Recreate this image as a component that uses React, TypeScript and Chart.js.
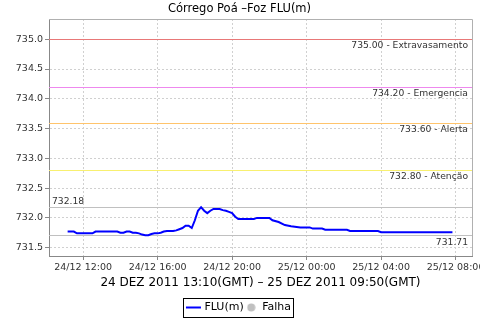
import React, { useEffect, useRef } from "react";
import { Chart, registerables } from "chart.js";

Chart.register(...registerables);

const TITLE = "Córrego Poá –Foz FLU(m)";
const X_TITLE = "24 DEZ 2011 13:10(GMT) – 25 DEZ 2011 09:50(GMT)";
const SERIES_LABEL = "FLU(m)";
const FAIL_LABEL = "Falha";

// time stamps (local) and level readings of FLU(m)
const times = [
  "24/12 11:10", "24/12 11:30", "24/12 11:40", "24/12 12:30", "24/12 12:40",
  "24/12 13:50", "24/12 14:00", "24/12 14:10", "24/12 14:20", "24/12 14:30",
  "24/12 14:40", "24/12 14:50", "24/12 15:00", "24/12 15:10", "24/12 15:20",
  "24/12 15:30", "24/12 15:40", "24/12 15:50", "24/12 16:00", "24/12 16:10",
  "24/12 16:20", "24/12 16:30", "24/12 16:50", "24/12 17:00", "24/12 17:10",
  "24/12 17:20", "24/12 17:30", "24/12 17:40", "24/12 17:50", "24/12 18:00",
  "24/12 18:10", "24/12 18:20", "24/12 18:30", "24/12 18:40", "24/12 18:50",
  "24/12 19:00", "24/12 19:20", "24/12 19:30", "24/12 19:40", "24/12 19:50",
  "24/12 20:00", "24/12 20:10", "24/12 20:20", "24/12 21:10", "24/12 21:20",
  "24/12 22:00", "24/12 22:10", "24/12 22:30", "24/12 22:50", "24/12 23:10",
  "24/12 23:40", "25/12 00:10", "25/12 00:20", "25/12 00:50", "25/12 01:00",
  "25/12 02:10", "25/12 02:20", "25/12 03:50", "25/12 04:00", "25/12 07:50",
];
const levels = [
  731.77, 731.77, 731.74, 731.74, 731.77,
  731.77, 731.75, 731.75, 731.77, 731.77,
  731.75, 731.75, 731.74, 731.72, 731.71,
  731.71, 731.73, 731.74, 731.74, 731.75,
  731.77, 731.78, 731.78, 731.79, 731.81,
  731.83, 731.87, 731.87, 731.83, 731.96,
  732.12, 732.18, 732.12, 732.08, 732.12,
  732.15, 732.15, 732.13, 732.12, 732.10,
  732.08, 732.02, 731.98, 731.98, 732.00,
  732.00, 731.96, 731.93, 731.88, 731.86,
  731.84, 731.84, 731.82, 731.82, 731.80,
  731.80, 731.78, 731.78, 731.76, 731.76,
];

const X_MIN = "24/12 10:10";
const X_MAX = "25/12 08:53";
const Y_MIN = 731.36;
const Y_MAX = 735.34;

const xTickTimes = ["24/12 12:00", "24/12 16:00", "24/12 20:00", "25/12 00:00", "25/12 04:00", "25/12 08:00"];
const yTicks = [731.5, 732.0, 732.5, 733.0, 733.5, 734.0, 734.5, 735.0];

const thresholdValues = [735.0, 734.2, 733.6, 732.8];
const thresholdNames = ["Extravasamento", "Emergencia", "Alerta", "Atenção"];
const thresholdColors = ["#e87878", "#ee88ee", "#ffc46c", "#f8f070"];

const extremeValues = [732.18, 731.71]; // max, min

const FONT = '"DejaVu Sans", sans-serif';

function toHours(s: string): number {
  const [d, t] = s.split(" ");
  const day = Number(d.split("/")[0]);
  const [hh, mm] = t.split(":").map(Number);
  return (day - 24) * 24 + hh + mm / 60;
}

function fmtHours(h: number): string {
  const total = Math.round(h * 60);
  const day = 24 + Math.floor(total / 1440);
  const rem = total % 1440;
  const hh = Math.floor(rem / 60);
  const mm = rem % 60;
  const p = (n: number) => String(n).padStart(2, "0");
  return `${day}/12 ${p(hh)}:${p(mm)}`;
}

const refLinesPlugin = {
  id: "refLines",
  beforeDatasetsDraw(chart: any) {
    const { ctx, chartArea, scales } = chart;
    const { left, right, top, bottom } = chartArea;
    const y = scales.y;
    ctx.save();
    ctx.beginPath();
    ctx.rect(left, top, right - left, bottom - top);
    ctx.clip();
    ctx.setLineDash([]);
    ctx.lineWidth = 1;
    ctx.font = `9.2px ${FONT}`;
    ctx.fillStyle = "#333";
    thresholdValues.forEach((v, i) => {
      const py = Math.round(y.getPixelForValue(v)) + 0.5;
      ctx.strokeStyle = thresholdColors[i];
      ctx.beginPath();
      ctx.moveTo(left, py);
      ctx.lineTo(right, py);
      ctx.stroke();
      ctx.textAlign = "right";
      ctx.textBaseline = "top";
      ctx.fillText(`${v.toFixed(2)} - ${thresholdNames[i]}`, right - 4, py + 2);
    });
    extremeValues.forEach((v, i) => {
      const py = Math.round(y.getPixelForValue(v)) + 0.5;
      ctx.strokeStyle = "#c0c0c0";
      ctx.beginPath();
      ctx.moveTo(left, py);
      ctx.lineTo(right, py);
      ctx.stroke();
      if (i === 0) {
        ctx.textAlign = "left";
        ctx.textBaseline = "alphabetic";
        ctx.fillText(v.toFixed(2), left + 3, py - 4);
      } else {
        ctx.textAlign = "right";
        ctx.textBaseline = "top";
        ctx.fillText(v.toFixed(2), right - 4, py + 3);
      }
    });
    ctx.restore();
  },
  afterDraw(chart: any) {
    const { ctx, chartArea } = chart;
    const { left, right, top } = chartArea;
    ctx.save();
    ctx.setLineDash([]);
    ctx.strokeStyle = "#b0b0b0";
    ctx.lineWidth = 1;
    ctx.beginPath();
    ctx.moveTo(left, Math.round(top) + 0.5);
    ctx.lineTo(Math.round(right) + 0.5, Math.round(top) + 0.5);
    ctx.lineTo(Math.round(right) + 0.5, chartArea.bottom);
    ctx.stroke();
    // legend frame
    const hb = chart.legend?.legendHitBoxes || [];
    if (hb.length) {
      const l = Math.min(...hb.map((h: any) => h.left));
      const r = Math.max(...hb.map((h: any) => h.left + h.width));
      const t = hb[0].top;
      const b = t + hb[0].height;
      const x0 = Math.round(l - 5) + 0.5;
      const x1 = Math.round(r + 2) + 0.5;
      const y0 = Math.round(t - 4.5) + 0.5;
      const y1 = Math.round(b + 4) + 0.5;
      ctx.strokeStyle = "#000";
      ctx.strokeRect(x0, y0, x1 - x0, y1 - y0);
    }
    ctx.restore();
  },
};

export default function App() {
  const ref = useRef<HTMLCanvasElement | null>(null);

  useEffect(() => {
    if (!ref.current) return;
    Chart.defaults.font.family = FONT;

    const dot = document.createElement("canvas");
    dot.width = 9;
    dot.height = 9;
    const dctx = dot.getContext("2d")!;
    dctx.fillStyle = "#c0c0c0";
    dctx.beginPath();
    dctx.arc(4.5, 4.5, 4, 0, Math.PI * 2);
    dctx.fill();

    const points = times.map((t, i) => ({ x: toHours(t), y: levels[i] }));

    const chart = new Chart(ref.current, {
      type: "line",
      data: {
        datasets: [
          {
            label: SERIES_LABEL,
            data: points,
            borderColor: "#0000ff",
            backgroundColor: "#0000ff",
            borderWidth: 2,
            pointRadius: 0,
            pointStyle: "line",
            tension: 0,
          },
          {
            label: FAIL_LABEL,
            data: [],
            borderColor: "#c0c0c0",
            backgroundColor: "#c0c0c0",
            pointRadius: 4,
            showLine: false,
          },
        ],
      },
      options: {
        animation: false,
        responsive: false,
        devicePixelRatio: 1,
        layout: { padding: { left: 7, right: 8, top: 0, bottom: -3 } },
        scales: {
          x: {
            type: "linear",
            min: toHours(X_MIN),
            max: toHours(X_MAX),
            afterBuildTicks: (s: any) => {
              s.ticks = xTickTimes.map((t) => ({ value: toHours(t) }));
            },
            afterFit: (s: any) => {
              s.paddingLeft = 0;
              s.paddingRight = 0;
            },
            ticks: {
              autoSkip: false,
              maxRotation: 0,
              padding: 2,
              color: "#333",
              font: { size: 9.5 },
              callback: (v: any) => fmtHours(Number(v)),
            },
            grid: { color: "#d0d0d0", tickLength: 4, tickColor: "#888", tickBorderDash: [] },
            border: { color: "#888", dash: [2, 2] },
            title: {
              display: true,
              text: X_TITLE,
              color: "#000",
              font: { size: 12 },
              padding: { top: 0.4, bottom: 9.8 },
            },
          },
          y: {
            type: "linear",
            min: Y_MIN,
            max: Y_MAX,
            afterBuildTicks: (s: any) => {
              s.ticks = yTicks.map((v) => ({ value: v }));
            },
            afterFit: (s: any) => {
              s.width = 42;
              s.paddingTop = 0;
              s.paddingBottom = 0;
            },
            ticks: {
              padding: 2,
              color: "#333",
              font: { size: 9.5 },
              callback: (v: any) => Number(v).toFixed(1),
            },
            grid: { color: "#d0d0d0", tickLength: 4, tickColor: "#888", tickBorderDash: [] },
            border: { color: "#888", dash: [2, 2] },
          },
        },
        plugins: {
          title: {
            display: true,
            text: TITLE,
            color: "#000",
            font: { size: 11.5, weight: "normal" },
            padding: { top: 2.1, bottom: 3.1 },
          },
          legend: {
            position: "bottom",
            labels: {
              usePointStyle: true,
              boxHeight: 10.6,
              boxWidth: 11,
              padding: 2,
              color: "#000",
              font: { size: 11 },
              generateLabels: (c: any) =>
                c.data.datasets.map((ds: any, i: number) => ({
                  text: ds.label,
                  datasetIndex: i,
                  hidden: false,
                  fillStyle: ds.backgroundColor,
                  strokeStyle: ds.borderColor,
                  lineWidth: i === 0 ? 2 : 0,
                  pointStyle: i === 0 ? "line" : dot,
                  fontColor: "#000",
                })),
            },
          },
          tooltip: { enabled: false },
        },
      },
      plugins: [refLinesPlugin],
    } as any);

    return () => chart.destroy();
  }, []);

  return (
    <div style={{ position: "absolute", left: 0, top: 0, width: 480, height: 320 }}>
      <canvas ref={ref} width={480} height={320} style={{ display: "block" }} />
    </div>
  );
}
